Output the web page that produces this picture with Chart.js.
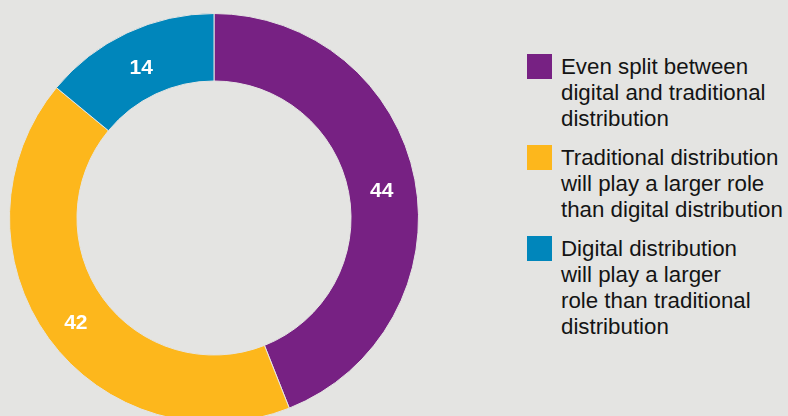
<!DOCTYPE html>
<html>
<head>
<meta charset="utf-8">
<script src="https://cdn.jsdelivr.net/npm/chart.js@4/dist/chart.umd.min.js"></script>
<style>
  html, body { margin:0; padding:0; }
  body { width:788px; height:416px; overflow:hidden; background:#e4e4e2; position:relative;
         font-family:"Liberation Sans", Arial, Helvetica, sans-serif; }
  #wrap { position:absolute; left:9px; top:13px; width:410px; height:410px; }
  #legend { position:absolute; left:527px; top:54px; margin:0; padding:0; list-style:none; }
  #legend li { position:relative; padding-left:34px; font-size:22.3px; line-height:26px; color:#141414; margin-bottom:13px; white-space:nowrap; }
  #legend .sw { position:absolute; left:0; top:0; width:25px; height:25px; }
</style>
</head>
<body>
<div id="wrap"><canvas id="donut"></canvas></div>
<ul id="legend"></ul>
<script>
/* share of respondents, percent */
const labels = [
  ["Even split between", "digital and traditional", "distribution"],
  ["Traditional distribution", "will play a larger role", "than digital distribution"],
  ["Digital distribution", "will play a larger", "role than traditional", "distribution"]
];
const values = [44, 42, 14];
const colors = ["#772183", "#fdb71c", "#0086bb"];
const BG = "#e4e4e2";

// value labels sit in the middle of each ring segment, a touch below centre
const sliceLabels = {
  id: "sliceLabels",
  afterDatasetsDraw(chart){
    const ctx = chart.ctx;
    const meta = chart.getDatasetMeta(0);
    ctx.save();
    ctx.fillStyle = "#ffffff";
    ctx.font = "bold 21px 'Liberation Sans', Arial, sans-serif";
    ctx.textAlign = "center";
    ctx.textBaseline = "middle";
    meta.data.forEach((arc, i) => {
      const p = arc.getProps(["x","y","startAngle","endAngle","innerRadius","outerRadius"], true);
      const mid = (p.startAngle + p.endAngle) / 2;
      const r = (p.innerRadius + p.outerRadius) / 2;
      ctx.fillText(String(values[i]), p.x + Math.cos(mid) * r, p.y + Math.sin(mid) * r + 5);
    });
    ctx.restore();
  }
};

new Chart(document.getElementById("donut"), {
  type: "doughnut",
  data: {
    labels: labels.map(l => l.join(" ")),
    datasets: [{ data: values, backgroundColor: colors, borderColor: BG, borderWidth: 1 }]
  },
  options: {
    responsive: true, maintainAspectRatio: false, animation: false,
    cutout: "67%",
    plugins: { legend: { display: false }, tooltip: { enabled: false } }
  },
  plugins: [sliceLabels]
});

const ul = document.getElementById("legend");
labels.forEach((lines, i) => {
  const li = document.createElement("li");
  const sw = document.createElement("span");
  sw.className = "sw";
  sw.style.background = colors[i];
  li.appendChild(sw);
  lines.forEach((t, j) => {
    if (j) li.appendChild(document.createElement("br"));
    li.appendChild(document.createTextNode(t));
  });
  ul.appendChild(li);
});
</script>
</body>
</html>
